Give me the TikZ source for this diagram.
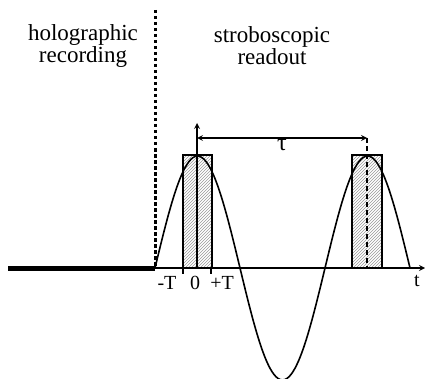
\documentclass[tikz,border=0pt]{standalone}
\usepackage{fontspec}
\setmainfont{Liberation Serif}
\usetikzlibrary{positioning,patterns}

\begin{document}
\begin{tikzpicture}[>=stealth,x=1pt,y=1pt]
  \tikzstyle{pulse}=[draw,line width=1.6pt,pattern=north east lines,pattern color=gray!80]
  \tikzstyle{phase}=[align=center,font=\rmfamily\fontsize{23}{22}\selectfont]
  \tikzstyle{lbl}=[font=\rmfamily\fontsize{20}{22}\selectfont,inner sep=1pt]
  \useasboundingbox (0,0) rectangle (425,378);
  % time axis and boundary
  \coordinate (start) at (8,110);
  \coordinate (orig) at (155,110);
  \coordinate (tend) at (425,110);
  \coordinate (sep) at (155,368);
  \coordinate (peak) at (197,110);
  \coordinate (ptop) at (197,255);
  \coordinate (tauL) at (197,240);
  \coordinate (tauR) at (367,240);
  \coordinate (next) at (367,110);
  \node[phase] (rec) at (83,332) {holographic\\recording};
  \node[phase] (ro) at (272,332) {stroboscopic\\readout};
  % readout pulses
  \draw[pulse] (183,110) rectangle (212,223);
  \draw[pulse] (352,110) rectangle (382,223);
  % signal
  \draw[line width=1.6pt] plot[domain=155:410,samples=61,smooth]
    (\x,{110+112*sin(2.1176*(\x-155))});
  \draw[line width=5pt] (start)--(orig);
  \draw[line width=3pt,dash pattern=on 3.5pt off 2.5pt] (sep)--(orig);
  \draw[->,line width=1.6pt] (orig)--(tend);
  \draw[->,line width=1.6pt] (peak)--(ptop);
  \draw[<->,line width=1.6pt] (tauL)--(tauR) node[lbl,font=\rmfamily\fontsize{24}{24}\selectfont,midway,below=0pt] (tau) {τ};
  \draw[line width=2.2pt,dash pattern=on 5pt off 3pt] (tauR)--(next);
  % ticks
  \draw[line width=1.6pt] (183,110)--(183,104);
  \draw[line width=1.6pt] (211,110)--(211,104);
  \node[lbl,anchor=north] (mT) at (167,103) {-T};
  \node[lbl,anchor=north] (zero) at (195,103) {0};
  \node[lbl,anchor=north] (pT) at (222,103) {+T};
  \node[lbl,anchor=north] (t) at (417,104) {t};
\end{tikzpicture}
\end{document}
